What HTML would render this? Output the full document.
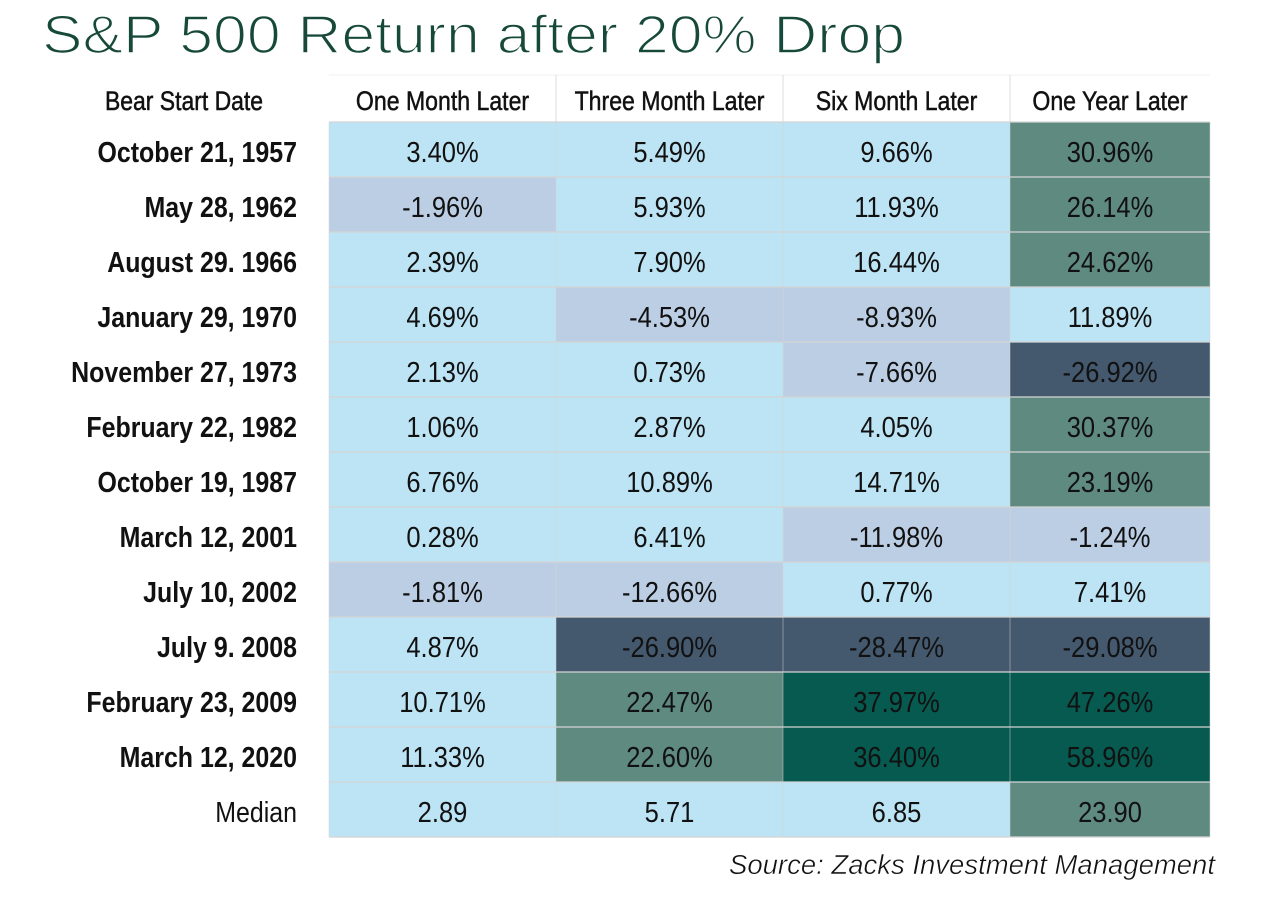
<!DOCTYPE html>
<html><head><meta charset="utf-8"><style>
html,body{margin:0;padding:0;background:#fff;}
svg{display:block;font-family:"Liberation Sans",sans-serif;}
</style></head><body>
<svg id="chart" width="1265" height="907">
<text x="42" y="53" font-size="54" fill="#17493a" stroke="#fff" stroke-width="1.6" textLength="863" lengthAdjust="spacingAndGlyphs">S&amp;P 500 Return after 20% Drop</text>
<g id="grid"></g>
<text x="1215" y="874" font-size="28" font-style="italic" fill="#111" stroke="#fff" stroke-width="0.5" text-anchor="end" textLength="486" lengthAdjust="spacingAndGlyphs">Source: Zacks Investment Management</text>
</svg>
<script>
const dates = ["October 21, 1957","May 28, 1962","August 29. 1966","January 29, 1970","November 27, 1973","February 22, 1982","October 19, 1987","March 12, 2001","July 10, 2002","July 9. 2008","February 23, 2009","March 12, 2020"];
const headers = ["One Month Later","Three Month Later","Six Month Later","One Year Later"];
const oneMonth = [3.40,-1.96,2.39,4.69,2.13,1.06,6.76,0.28,-1.81,4.87,10.71,11.33];
const threeMonth = [5.49,5.93,7.90,-4.53,0.73,2.87,10.89,6.41,-12.66,-26.90,22.47,22.60];
const sixMonth = [9.66,11.93,16.44,-8.93,-7.66,4.05,14.71,-11.98,0.77,-28.47,37.97,36.40];
const oneYear = [30.96,26.14,24.62,11.89,-26.92,30.37,23.19,-1.24,7.41,-29.08,47.26,58.96];
const medians = [2.89,5.71,6.85,23.90];

const NS="http://www.w3.org/2000/svg";
const g=document.getElementById('grid');
const colX=[329,556,783,1010,1210];
const top0=75, headH=47, rowH=55, labelRight=297;
function color(v){ if(v<-20) return "#44586e"; if(v<0) return "#bccee4"; if(v<20) return "#bde4f4"; if(v<35) return "#5f8a80"; return "#075a50"; }
function mk(tag,attrs){const e=document.createElementNS(NS,tag);for(const k in attrs)e.setAttribute(k,attrs[k]);g.appendChild(e);return e;}
function txt(x,y,s,size,weight,anchor,sx){
  const t=mk('text',{transform:`translate(${x},${y}) scale(${sx},1)`,'font-size':size,'font-weight':weight,'text-anchor':anchor,fill:'#111'});
  t.textContent=s;return t;
}
let h=txt(184,110,"Bear Start Date",27,'normal','middle',0.85);
h.setAttribute('stroke','#111');
h.setAttribute('stroke-width','0.5');


mk('line',{x1:329,y1:75,x2:1210,y2:75,stroke:'#f0f0f0','stroke-width':1});
headers.forEach((s,i)=>{
  const cx=(colX[i]+colX[i+1])/2;
  const t=txt(cx,110,s,27,'normal','middle',0.855);
  t.setAttribute('stroke','#111');
  t.setAttribute('stroke-width','0.5');
  
  
  if(i>0){mk('line',{x1:colX[i],y1:75,x2:colX[i],y2:122,stroke:'#ddd','stroke-width':1});}
});
const series=[oneMonth,threeMonth,sixMonth,oneYear];
const rows=dates.length+1;
for(let r=0;r<rows;r++){
  const y=top0+headH+r*rowH;
  const isMed=r===dates.length;
  const lab=txt(labelRight,y+40,isMed?"Median":dates[r],29,isMed?'normal':'bold','end',isMed?0.86:0.86);
  
  
  for(let c=0;c<4;c++){
    const v=isMed?medians[c]:series[c][r];
    const rect=mk('rect',{x:colX[c],y:y,width:colX[c+1]-colX[c],height:rowH,fill:color(v)});
    
    
    const cx=(colX[c]+colX[c+1])/2;
    const t=txt(cx,y+40,isMed?v.toFixed(2):v.toFixed(2)+"%",29,'normal','middle',0.88);
    
    
  }
}
for(let r=0;r<=rows;r++){
  const y=top0+headH+r*rowH;
  mk('line',{x1:329,y1:y,x2:1210,y2:y,stroke:'#d4d4d4','stroke-width':1.2});
}
for(let i=0;i<colX.length;i++){
  mk('line',{x1:colX[i],y1:top0+headH,x2:colX[i],y2:top0+headH+rows*rowH,stroke:'#d4d4d4','stroke-width':0.8,'stroke-opacity':0.6});
}
</script>
</body></html>
